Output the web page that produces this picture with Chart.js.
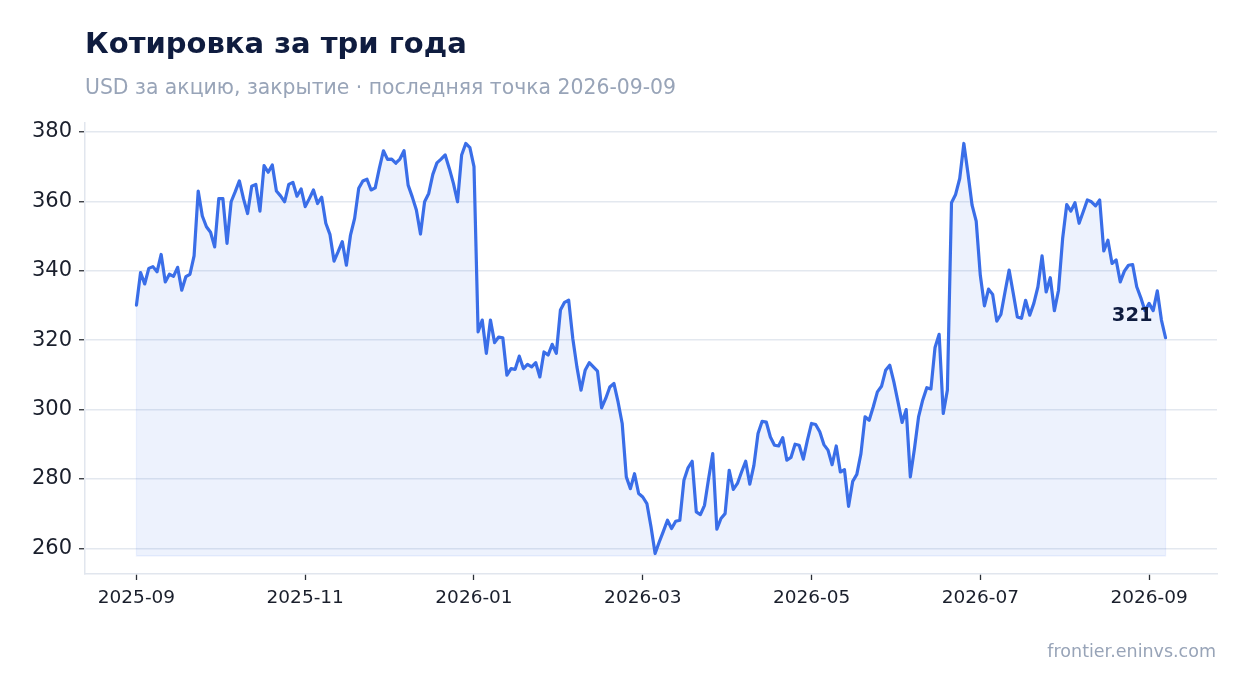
<!DOCTYPE html>
<html>
<head>
<meta charset="utf-8">
<script src="https://cdn.jsdelivr.net/npm/chart.js@4.4.1/dist/chart.umd.min.js"></script>
<style>
  html, body { margin:0; padding:0; background:#ffffff; width:1247px; height:693px; overflow:hidden; font-family:'DejaVu Sans', sans-serif; }
  #wrap { position:absolute; left:0; top:0; width:1247px; height:693px; }
  canvas { position:absolute; left:0; top:0; }
  .txt { position:absolute; white-space:nowrap; }
  #title { left:85px; top:28.5px; font-size:29px; line-height:29px; font-weight:bold; color:#0f1c3f; }
  #subtitle { left:85px; top:76.5px; font-size:20.4px; line-height:20.4px; color:#98a4b8; }
  #footer { right:31px; top:643px; font-size:17.5px; line-height:17.5px; color:#98a4b8; }
</style>
</head>
<body>
<div id="wrap">
  <canvas id="c" width="1247" height="693"></canvas>
  <div class="txt" id="title">Котировка за три года</div>
  <div class="txt" id="subtitle">USD за акцию, закрытие · последняя точка 2026-09-09</div>
  <div class="txt" id="footer">frontier.eninvs.com</div>
</div>
<script>
// ---- data (daily closes, USD) ----
const closesSepOct = [330.1, 339.5, 336.2, 340.7, 341.2, 339.7, 344.7, 336.8, 339.0, 338.4, 341.0, 334.4, 338.3, 339.0, 344.3, 363.0, 355.8, 352.7, 351.1, 346.9, 360.8, 360.8, 347.9, 359.9, 362.8, 365.9, 360.8, 356.5, 364.4, 364.9, 357.2, 370.3, 368.4, 370.5, 363.0, 361.6, 359.9, 364.9, 365.5, 361.5, 363.6, 358.5, 360.8, 363.3, 359.4, 361.2, 353.7, 350.5, 342.8, 345.5, 348.4, 341.6];
const closesNovJan = [350.3, 355.1, 363.8, 365.9, 366.4, 363.3, 363.9, 369.5, 374.6, 372.1, 372.2, 371.0, 372.2, 374.6, 364.7, 361.3, 357.5, 350.6, 359.9, 362.3, 367.8, 371.1, 372.2, 373.4, 369.5, 365.2, 359.9, 373.4, 376.7, 375.5, 370.0, 322.4, 325.8, 316.2, 325.8, 319.3, 320.9, 320.7, 309.9, 311.8, 311.6, 315.4, 311.8, 313.0, 312.3, 313.5, 309.4, 316.6, 315.7];
const closesFebApr = [318.8, 316.2, 328.7, 330.9, 331.5, 320.5, 312.3, 305.6, 311.3, 313.5, 312.3, 311.1, 300.5, 303.2, 306.5, 307.5, 302.2, 296.0, 280.6, 277.2, 281.5, 275.8, 274.8, 272.9, 266.2, 258.5, 261.8, 264.9, 268.1, 265.7, 267.8, 268.1, 279.6, 283.2, 285.1, 270.5, 269.7, 272.4, 280.1, 287.3, 265.5, 268.6, 270.0, 282.5, 277.0, 278.7, 282.0, 285.1, 278.5];
const closesAprJun = [283.9, 293.1, 296.6, 296.4, 292.1, 289.7, 289.5, 291.9, 285.4, 286.2, 290.0, 289.7, 285.7, 291.2, 296.0, 295.7, 293.6, 289.9, 288.3, 284.1, 289.5, 282.0, 282.7, 272.1, 279.3, 281.3, 287.3, 297.9, 296.9, 300.8, 305.1, 306.7, 311.3, 312.8, 308.0, 302.2, 296.3, 300.0, 280.6, 288.7, 297.9, 302.7, 306.3, 305.9, 317.9, 321.7, 298.9, 305.6];
const closesJunSep = [359.6, 362.0, 366.6, 376.7, 368.1, 358.9, 354.3, 338.7, 329.9, 334.7, 333.2, 325.5, 327.4, 333.9, 340.2, 333.5, 326.7, 326.3, 331.5, 327.2, 330.6, 335.4, 344.3, 333.9, 338.0, 328.5, 334.4, 349.3, 359.1, 357.2, 359.6, 353.7, 357.0, 360.4, 359.9, 358.7, 360.4, 345.7, 348.8, 342.1, 343.1, 336.8, 339.9, 341.6, 341.8, 335.4, 332.2, 328.5, 330.6, 328.5, 334.2, 325.8, 320.7];
const closes = [].concat(closesSepOct, closesNovJan, closesFebApr, closesAprJun, closesJunSep);

const xTickLabels = ['2025-09', '2025-11', '2026-01', '2026-03', '2026-05', '2026-07', '2026-09'];
const xTickSessions = [0, 41, 82, 123, 164, 205, 246];   // session index of each month tick
const yTickValues = [260, 280, 300, 320, 340, 360, 380];
const fillBaseline = 257.8;

const lineColor = '#3a6ee8';
const fontFam = "'DejaVu Sans', sans-serif";

const endLabel = {
  id: 'endLabel',
  afterDatasetsDraw(chart) {
    const { ctx, scales: { x, y } } = chart;
    const i = closes.length - 1;
    const px = x.getPixelForValue(i), py = y.getPixelForValue(closes[i]);
    ctx.save();
    ctx.font = 'bold 19.5px ' + fontFam;
    ctx.fillStyle = '#0f1c3f';
    ctx.textAlign = 'right';
    ctx.textBaseline = 'middle';
    ctx.fillText(String(Math.round(closes[i])), px - 13, py - 22);
    ctx.restore();
  }
};

const fillEdge = {
  id: 'fillEdge',
  afterDatasetsDraw(chart) {
    const { ctx, scales: { x, y } } = chart;
    const n = closes.length - 1;
    const x0 = x.getPixelForValue(0), x1 = x.getPixelForValue(n);
    const yb = y.getPixelForValue(fillBaseline);
    ctx.save();
    ctx.strokeStyle = 'rgba(58,110,232,0.10)';
    ctx.lineWidth = 1.2;
    ctx.beginPath();
    ctx.moveTo(x0, y.getPixelForValue(closes[0]));
    ctx.lineTo(x0, yb);
    ctx.lineTo(x1, yb);
    ctx.lineTo(x1, y.getPixelForValue(closes[n]));
    ctx.stroke();
    ctx.restore();
  }
};

new Chart(document.getElementById('c'), {
  type: 'line',
  data: {
    datasets: [{
      data: closes.map((v, i) => ({ x: i, y: v })),
      borderColor: lineColor,
      borderWidth: 3.2,
      pointRadius: 0,
      tension: 0,
      borderJoinStyle: 'round',
      borderCapStyle: 'round',
      fill: { value: fillBaseline },
      backgroundColor: 'rgba(58,110,232,0.09)'
    }]
  },
  options: {
    responsive: false,
    animation: false,
    events: [],
    layout: { padding: { top: 123, right: 30, left: 0, bottom: 0 } },
    plugins: { legend: { display: false }, tooltip: { enabled: false }, title: { display: false } },
    scales: {
      x: {
        type: 'linear',
        min: -12.5,
        max: 262.5,
        afterBuildTicks: s => { s.ticks = xTickSessions.map(v => ({ value: v })); },
        afterFit: s => { s.height = 119; },
        ticks: {
          autoSkip: false, maxRotation: 0, padding: 7,
          callback: (v) => xTickLabels[xTickSessions.indexOf(v)],
          font: { family: fontFam, size: 18.5 }, color: '#1a1f2c'
        },
        grid: { drawOnChartArea: false, drawTicks: true, tickLength: 6, tickColor: '#2b2f36', tickWidth: 1.3 },
        border: { display: true, color: '#e1e6ee', width: 1.5 }
      },
      y: {
        min: 252.6,
        max: 382.6,
        afterBuildTicks: s => { s.ticks = yTickValues.map(v => ({ value: v })); },
        afterFit: s => { s.width = 85; },
        ticks: {
          padding: 7,
          callback: v => String(v),
          font: { family: fontFam, size: 21 }, color: '#1a1f2c'
        },
        grid: { color: '#e3e8ef', lineWidth: 1.5, drawTicks: true, tickLength: 6, tickColor: '#2b2f36', tickWidth: 1.3 },
        border: { display: true, color: '#e1e6ee', width: 1.5 }
      }
    }
  },
  plugins: [fillEdge, endLabel]
});
</script>
</body>
</html>
